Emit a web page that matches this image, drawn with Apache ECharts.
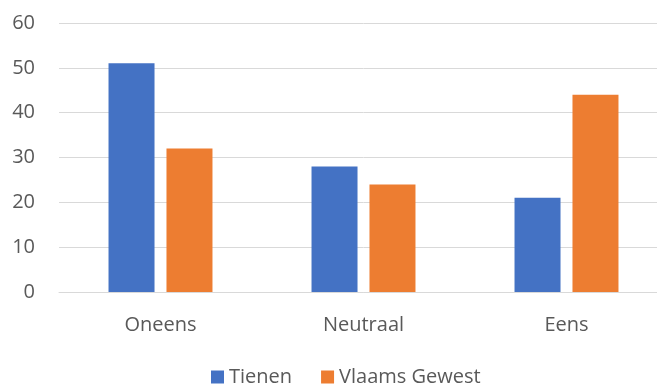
<!DOCTYPE html>
<html><head><meta charset="utf-8">
<script src="https://cdn.jsdelivr.net/npm/echarts@6/dist/echarts.min.js"></script>
<style>html,body{margin:0;padding:0;background:#fff;overflow:hidden}#c{width:668px;height:385px}</style>
</head><body><div id="c"></div>
<script>
const categories = ['Oneens', 'Neutraal', 'Eens'];
const tienen = [51, 28, 21];
const vlaams = [32, 24, 44];
const seriesNames = ['Tienen', 'Vlaams Gewest'];
const yTicks = { min: 0, max: 60, interval: 10 };

const chart = echarts.init(document.getElementById('c'), null, { renderer: 'canvas' });
const font = 'Open Sans, Liberation Sans, sans-serif';
chart.setOption({
  animation: false,
  textStyle: { fontFamily: font },
  grid: { left: 59, right: 0, top: 23, bottom: 93 },
  legend: {
    top: 362, left: 206, itemWidth: 13, itemHeight: 13, itemGap: 29,
    icon: 'rect',
    textStyle: { fontSize: 20, color: '#595959', fontFamily: font },
    data: seriesNames
  },
  xAxis: {
    type: 'category', data: categories,
    axisLine: { lineStyle: { color: '#D9D9D9', width: 1 } },
    axisTick: { show: false },
    axisLabel: { fontSize: 20, color: '#595959', margin: 23, fontFamily: font }
  },
  yAxis: {
    type: 'value', min: yTicks.min, max: yTicks.max, interval: yTicks.interval,
    axisLine: { show: false }, axisTick: { show: false },
    splitLine: { lineStyle: { color: '#D9D9D9', width: 1 } },
    axisLabel: { fontSize: 20, color: '#595959', margin: 24, fontFamily: font }
  },
  series: [
    { name: seriesNames[0], type: 'bar', data: tienen, barWidth: 46, barGap: '26%', itemStyle: { color: '#4472C4' } },
    { name: seriesNames[1], type: 'bar', data: vlaams, barWidth: 46, itemStyle: { color: '#ED7D31' } }
  ]
});
</script></body></html>
